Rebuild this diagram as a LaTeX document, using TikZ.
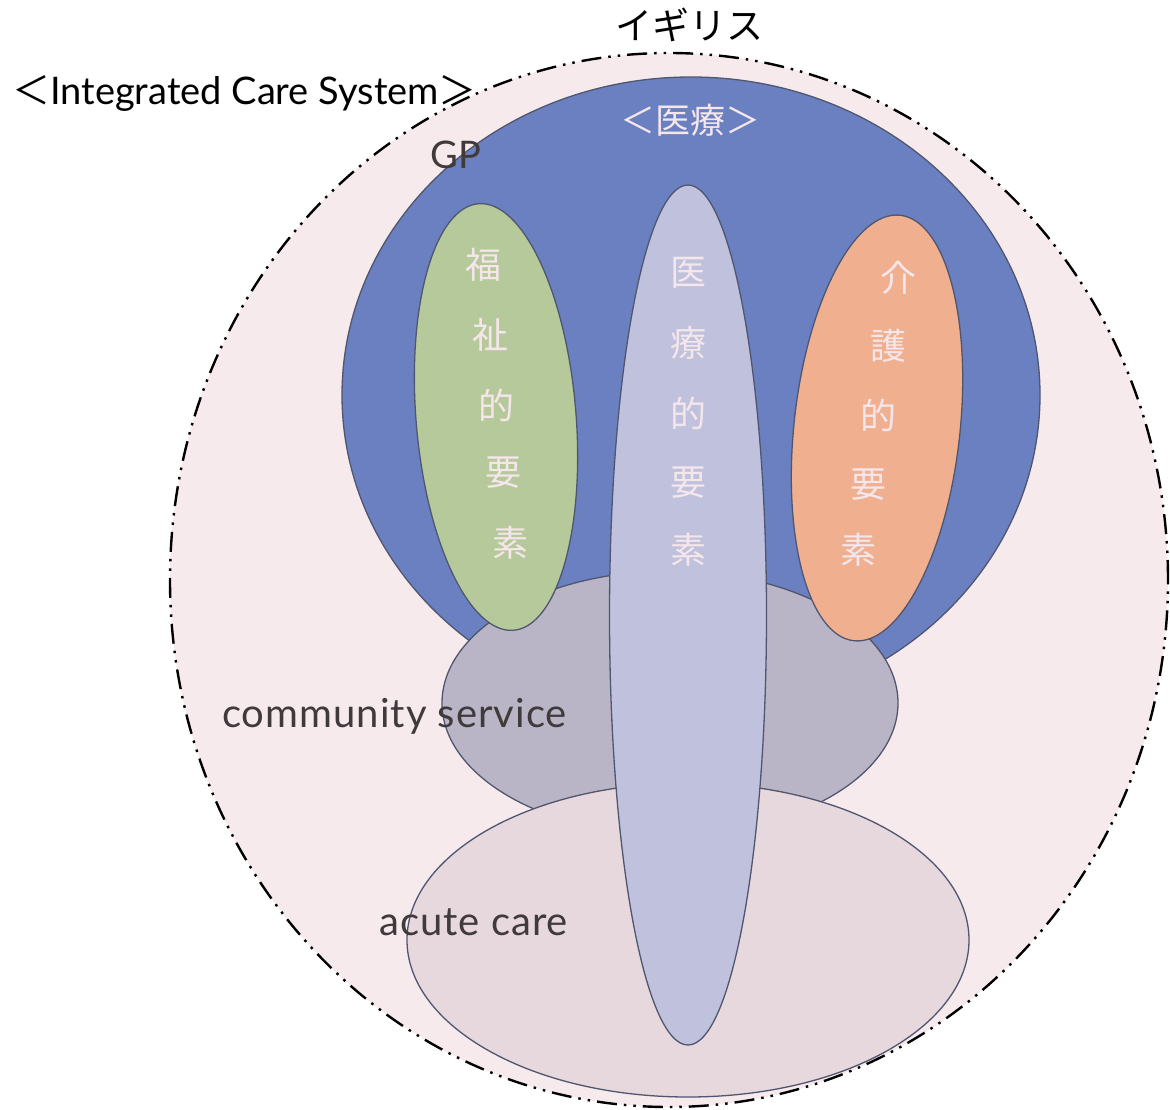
\documentclass[tikz,border=0pt]{standalone}
\usepackage{fontspec}
\setmainfont{Lato}
\newfontfamily\jp{Noto Sans CJK JP}
\newfontfamily\spacedlato[LetterSpace=2.5]{Lato}
\usetikzlibrary{shapes.geometric}
\definecolor{bgpink}{HTML}{F6EAED}
\definecolor{medblue}{HTML}{6A80C0}
\definecolor{welfgreen}{HTML}{B6C99A}
\definecolor{medlav}{HTML}{BFC1DD}
\definecolor{careorange}{HTML}{F0B08F}
\definecolor{commgray}{HTML}{B9B5C6}
\definecolor{acutepink}{HTML}{E6D8DC}
\definecolor{edgegray}{HTML}{50566F}
\definecolor{lighttext}{HTML}{F4E6EA}
\definecolor{darktext}{HTML}{403A3C}
\tikzset{
  blob/.style={ellipse, draw=edgegray, line width=1.3pt, inner sep=0pt},
  vchar/.style={font=\jp\fontsize{36}{36}\selectfont, text=lighttext, inner sep=0pt},
  darklabel/.style={font=\spacedlato\fontsize{40}{40}\selectfont, text=darktext, inner sep=0pt, anchor=west},
}
\begin{document}
\begin{tikzpicture}[x=1pt,y=-1pt]
\useasboundingbox (0,0) rectangle (1170,1110);
% outer system
\node[ellipse, fill=bgpink, draw=black, line width=2.4pt,
      dash pattern=on 20pt off 7pt on 2.5pt off 7pt on 2.5pt off 7pt,
      minimum width=998pt, minimum height=1054pt, inner sep=0pt] (uk) at (669,580) {};
% medical circle
\node[blob, fill=medblue, minimum width=698pt, minimum height=636pt] (med) at (691,395) {};
% community service
\node[blob, fill=commgray, minimum width=456pt, minimum height=264pt] (comm) at (670,703) {};
% acute care
\node[blob, fill=acutepink, minimum width=562pt, minimum height=314pt] (acute) at (688,940) {};
% welfare element
\node[blob, fill=welfgreen, minimum width=160pt, minimum height=428pt, rotate=4.7] (welf) at (496,417) {};
% care element
\node[blob, fill=careorange, minimum width=166pt, minimum height=428pt, rotate=-6.2] (care) at (877,428) {};
% medical element
\node[blob, fill=medlav, minimum width=157pt, minimum height=860pt] (medel) at (688,615) {};

% titles
\node[font=\jp\fontsize{38}{38}\selectfont, inner sep=0pt, anchor=west] (ics) at (12,93)
  {＜\fontspec{Lato}Integrated Care System\jp＞};
\node[font=\jp\fontsize{37}{37}\selectfont, inner sep=0pt] (igirisu) at (689,25) {イギリス};
\node[font=\jp\fontsize{35}{35}\selectfont, text=lighttext, inner sep=0pt] (iryo) at (690,120) {＜医療＞};
\node[font=\fontsize{38}{38}\selectfont, text=darktext, inner sep=0pt] (gp) at (456,155) {GP};

% vertical texts
\node[vchar] (w1) at (483,265) {福};
\node[vchar] (w2) at (490,335) {祉};
\node[vchar] (w3) at (496,405) {的};
\node[vchar] (w4) at (503,473) {要};
\node[vchar] (w5) at (510,543) {素};

\node[vchar] (m1) at (688,273) {医};
\node[vchar] (m2) at (688,343) {療};
\node[vchar] (m3) at (688,413) {的};
\node[vchar] (m4) at (688,483) {要};
\node[vchar] (m5) at (688,550) {素};

\node[vchar] (c1) at (898,278) {介};
\node[vchar] (c2) at (888,346) {護};
\node[vchar] (c3) at (878,415) {的};
\node[vchar] (c4) at (868,485) {要};
\node[vchar] (c5) at (858,550) {素};

\node[darklabel] (commlabel) at (222,716) {community service};
\node[darklabel] (acutelabel) at (379,922) {acute care};
\end{tikzpicture}
\end{document}
